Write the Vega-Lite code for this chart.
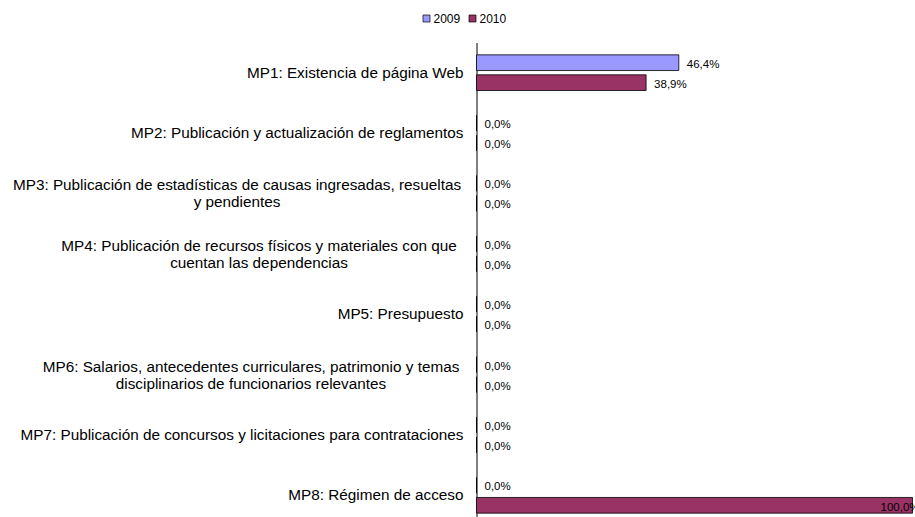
{
  "$schema": "https://vega.github.io/schema/vega-lite/v6.json",
  "width": 436,
  "height": 474.5,
  "autosize": {"type": "none"},
  "padding": {"left": 476.5, "top": 42.5, "right": 2.5, "bottom": 0},
  "config": {
    "view": {"stroke": null},
    "font": "Liberation Sans",
    "locale": {"number": {"decimal": ",", "thousands": ".", "grouping": [3], "currency": ["", " €"]}}
  },
  "data": {
    "values": [
      {"cat": "MP1: Existencia de página Web", "year": "2009", "v": 0.464},
      {"cat": "MP1: Existencia de página Web", "year": "2010", "v": 0.389},
      {"cat": "MP2: Publicación y actualización de reglamentos", "year": "2009", "v": 0},
      {"cat": "MP2: Publicación y actualización de reglamentos", "year": "2010", "v": 0},
      {"cat": "MP3: Publicación de estadísticas de causas ingresadas, resueltas|y pendientes", "year": "2009", "v": 0},
      {"cat": "MP3: Publicación de estadísticas de causas ingresadas, resueltas|y pendientes", "year": "2010", "v": 0},
      {"cat": "MP4: Publicación de recursos físicos y materiales con que|cuentan las dependencias", "year": "2009", "v": 0},
      {"cat": "MP4: Publicación de recursos físicos y materiales con que|cuentan las dependencias", "year": "2010", "v": 0},
      {"cat": "MP5: Presupuesto", "year": "2009", "v": 0},
      {"cat": "MP5: Presupuesto", "year": "2010", "v": 0},
      {"cat": "MP6: Salarios, antecedentes curriculares, patrimonio y temas|disciplinarios de funcionarios relevantes", "year": "2009", "v": 0},
      {"cat": "MP6: Salarios, antecedentes curriculares, patrimonio y temas|disciplinarios de funcionarios relevantes", "year": "2010", "v": 0},
      {"cat": "MP7: Publicación de concursos y licitaciones para contrataciones", "year": "2009", "v": 0},
      {"cat": "MP7: Publicación de concursos y licitaciones para contrataciones", "year": "2010", "v": 0},
      {"cat": "MP8: Régimen de acceso", "year": "2009", "v": 0},
      {"cat": "MP8: Régimen de acceso", "year": "2010", "v": 1.0}
    ]
  },
  "encoding": {
    "y": {
      "field": "cat",
      "type": "nominal",
      "sort": null,
      "scale": {"range": [0, 483], "paddingInner": 0.409, "paddingOuter": 0.2045},
      "axis": {
        "title": null,
        "ticks": false,
        "grid": false,
        "domainColor": "black",
        "domainWidth": 1,
        "labelFontSize": 15.3,
        "labelColor": "black",
        "labelLimit": 600,
        "labelLineHeight": 17,
        "labelBaseline": "middle",
        "labelExpr": "split(datum.label, '|')",
        "labelAlign": {"condition": {"test": "indexof(datum.value, '|') >= 0", "value": "center"}, "value": "right"},
        "labelOffset": {"condition": {"test": "indexof(datum.value, '|') >= 0", "value": -8}, "value": 0},
        "labelPadding": {
          "condition": [
            {"test": "indexof(datum.value, 'MP3') == 0", "value": 240},
            {"test": "indexof(datum.value, 'MP4') == 0", "value": 218},
            {"test": "indexof(datum.value, 'MP6') == 0", "value": 226}
          ],
          "value": 13.5
        }
      }
    },
    "yOffset": {"field": "year", "type": "nominal", "scale": {"paddingInner": 0.215, "paddingOuter": 0}},
    "x": {"field": "v", "type": "quantitative", "scale": {"domain": [0, 1]}, "axis": null}
  },
  "layer": [
    {
      "mark": {"type": "bar", "stroke": "black", "strokeWidth": 0.8},
      "encoding": {
        "color": {
          "field": "year",
          "type": "nominal",
          "scale": {"domain": ["2009", "2010"], "range": ["#9999FF", "#993366"]},
          "legend": {
            "orient": "none",
            "legendX": -56,
            "legendY": -30,
            "direction": "horizontal",
            "title": null,
            "padding": 0,
            "symbolType": "square",
            "symbolSize": 49,
            "symbolStrokeColor": "black",
            "symbolStrokeWidth": 0.7,
            "labelFontSize": 12,
            "labelColor": "black",
            "labelOffset": 1,
            "columnPadding": 6
          }
        }
      }
    },
    {
      "transform": [{"filter": "datum.v < 0.9"}],
      "mark": {"type": "text", "align": "left", "baseline": "middle", "dx": 8, "dy": 2, "fontSize": 11.5, "color": "black"},
      "encoding": {"text": {"field": "v", "type": "quantitative", "format": ".1%"}}
    },
    {
      "transform": [{"filter": "datum.v >= 0.9"}],
      "mark": {"type": "text", "align": "left", "baseline": "middle", "dx": -32, "dy": 3, "fontSize": 11.5, "color": "black"},
      "encoding": {"text": {"field": "v", "type": "quantitative", "format": ".1%"}}
    }
  ]
}
